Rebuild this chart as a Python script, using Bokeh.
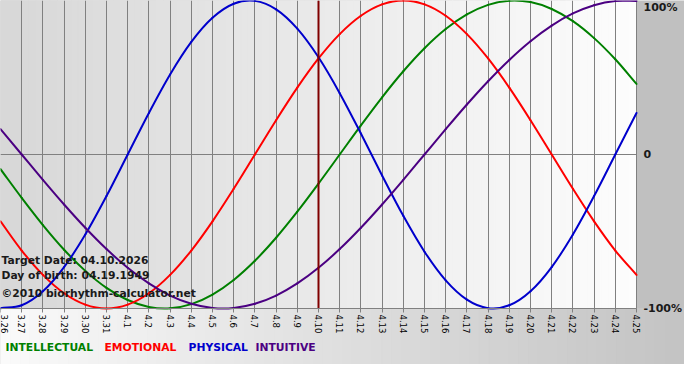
import numpy as np
from bokeh.plotting import figure
from bokeh.models import Range1d, FixedTicker, Label
from bokeh.embed import file_html
from bokeh.resources import INLINE

# ---- data ----
dates = ["3.26", "3.27", "3.28", "3.29", "3.30", "3.31", "4.1", "4.2", "4.3", "4.4",
         "4.5", "4.6", "4.7", "4.8", "4.9", "4.10", "4.11", "4.12", "4.13", "4.14",
         "4.15", "4.16", "4.17", "4.18", "4.19", "4.20", "4.21", "4.22", "4.23", "4.24", "4.25"]

intellectual = [-0.0951, -0.2817, -0.4582, -0.6182, -0.7557, -0.8660, -0.9450, -0.9898, -0.9989, -0.9718,
                -0.9096, -0.8146, -0.6901, -0.5406, -0.3717, -0.1893, 0.0, 0.1893, 0.3717, 0.5406,
                0.6901, 0.8146, 0.9096, 0.9718, 0.9989, 0.9898, 0.9450, 0.8660, 0.7557, 0.6182, 0.4582]
emotional = [-0.4339, -0.6235, -0.7818, -0.9010, -0.9749, -1.0, -0.9749, -0.9010, -0.7818, -0.6235,
             -0.4339, -0.2225, 0.0, 0.2225, 0.4339, 0.6235, 0.7818, 0.9010, 0.9749, 1.0,
             0.9749, 0.9010, 0.7818, 0.6235, 0.4339, 0.2225, 0.0, -0.2225, -0.4339, -0.6235, -0.7818]
physical = [-0.9977, -0.9791, -0.8879, -0.7308, -0.5196, -0.2698, 0.0, 0.2698, 0.5196, 0.7308,
            0.8879, 0.9791, 0.9977, 0.9423, 0.8170, 0.6311, 0.3984, 0.1362, -0.1362, -0.3984,
            -0.6311, -0.8170, -0.9423, -0.9977, -0.9791, -0.8879, -0.7308, -0.5196, -0.2698, 0.0, 0.2698]
intuitive = [0.1646, 0.0, -0.1646, -0.3247, -0.4759, -0.6142, -0.7357, -0.8372, -0.9158, -0.9694,
             -0.9966, -0.9966, -0.9694, -0.9158, -0.8372, -0.7357, -0.6142, -0.4759, -0.3247, -0.1646,
             0.0, 0.1646, 0.3247, 0.4759, 0.6142, 0.7357, 0.8372, 0.9158, 0.9694, 0.9966, 0.9966]

target_date = "4.10"
y_ticks = [-1, 0, 1]
y_tick_labels = ["-100%", "0", "100%"]
info_lines = ["Target Date: 04.10.2026", "Day of birth: 04.19.1949", "\u00a92010 biorhythm-calculator.net"]
legend_names = ["INTELLECTUAL", "EMOTIONAL", "PHYSICAL", "INTUITIVE"]

# ---- styling ----
colors = {"INTELLECTUAL": "#008000", "EMOTIONAL": "#ff0000", "PHYSICAL": "#0000cc", "INTUITIVE": "#4b0082"}
series = {"INTELLECTUAL": intellectual, "EMOTIONAL": emotional, "PHYSICAL": physical, "INTUITIVE": intuitive}

W, H = 684, 364          # figure size
PW, PH = 636, 308        # plot-area size in pixels (rest = right and bottom bands)
x = list(range(len(dates)))
n = len(dates) - 1
ymin_v, ymax_v = min(y_ticks), max(y_ticks)
xmax = n * W / PW
ymin = ymax_v - (ymax_v - ymin_v) * H / PH

p = figure(width=W, height=H, x_range=Range1d(0, xmax), y_range=Range1d(ymin, ymax_v),
           y_axis_location="right", output_backend="svg", toolbar_location=None,
           min_border=0, border_fill_color="#c0c0c0", background_fill_color="#c0c0c0",
           outline_line_color=None)

# plot-area gradient (left grey -> right white)
ns = 90
edges = np.linspace(0, n, ns + 1)
gv = np.linspace(216, 253, ns).astype(int)
gcol = ["#%02x%02x%02x" % (g, g, g) for g in gv]
p.quad(left=edges[:-1], right=edges[1:], bottom=ymin_v, top=ymax_v, fill_color=gcol,
       line_color=gcol, line_width=1, level="image")

# bottom band gradient (left white -> right grey)
nb = 70
bedges = np.linspace(0, xmax, nb + 1)
bv = np.linspace(250, 196, nb).astype(int)
bcol = ["#%02x%02x%02x" % (g, g, g) for g in bv]
p.quad(left=bedges[:-1], right=bedges[1:], bottom=ymin, top=ymin_v, fill_color=bcol,
       line_color=bcol, line_width=1, level="image")

# axes drawn at the plot-area edges
p.xaxis.fixed_location = ymin_v
p.xaxis.bounds = (0, n)
p.xaxis.ticker = FixedTicker(ticks=x)
p.xaxis.major_label_overrides = {i: d for i, d in enumerate(dates)}
p.xaxis.major_label_orientation = -np.pi / 2
p.xaxis.major_label_text_font = "DejaVu Sans"
p.xaxis.major_label_text_font_size = "8.5px"
p.xaxis.major_label_text_color = "#000000"
p.xaxis.major_label_standoff = 2
p.xaxis.axis_line_color = "#808080"
p.xaxis.major_tick_line_color = "#808080"
p.xaxis.major_tick_out = 4
p.xaxis.major_tick_in = 0
p.xaxis.minor_tick_line_color = None

p.yaxis.fixed_location = n
p.yaxis.bounds = (ymin_v, ymax_v)
p.yaxis.ticker = FixedTicker(ticks=y_ticks)
p.yaxis.major_label_overrides = {t: l for t, l in zip(y_ticks, y_tick_labels)}
p.yaxis.major_label_text_font = "DejaVu Sans"
p.yaxis.major_label_text_font_style = "bold"
p.yaxis.major_label_text_font_size = "11px"
p.yaxis.major_label_text_color = "#1a1a1a"
p.yaxis.major_label_standoff = 7
p.yaxis.major_tick_out = 0
p.yaxis.major_tick_in = 0
p.yaxis.axis_line_color = None
p.yaxis.major_tick_line_color = None
p.yaxis.minor_tick_line_color = None

p.xgrid.ticker = FixedTicker(ticks=x)
p.xgrid.grid_line_color = "#808080"
p.xgrid.grid_line_width = 1
p.xgrid.cross_bounds = (ymin_v, ymax_v)
p.ygrid.ticker = FixedTicker(ticks=y_ticks)
p.ygrid.grid_line_color = "#808080"
p.ygrid.grid_line_width = 1
p.ygrid.cross_bounds = (0, n)


# smooth curves through the daily values (Catmull-Rom as cubic Bezier segments)
def bezier_parts(xs, ys):
    xs = np.asarray(xs, float)
    ys = np.asarray(ys, float)
    xe = np.concatenate([[2 * xs[0] - xs[1]], xs, [2 * xs[-1] - xs[-2]]])
    ye = np.concatenate([[2 * ys[0] - ys[1]], ys, [2 * ys[-1] - ys[-2]]])
    x0, y0 = xe[1:-2], ye[1:-2]
    x1, y1 = xe[2:-1], ye[2:-1]
    cx0 = x0 + (xe[2:-1] - xe[:-3]) / 6
    cy0 = y0 + (ye[2:-1] - ye[:-3]) / 6
    cx1 = x1 - (xe[3:] - xe[1:-2]) / 6
    cy1 = y1 - (ye[3:] - ye[1:-2]) / 6
    return dict(x0=x0, y0=y0, x1=x1, y1=y1, cx0=cx0, cy0=cy0, cx1=cx1, cy1=cy1)


for name in legend_names:
    b = bezier_parts(x, series[name])
    p.bezier(x0=b["x0"], y0=b["y0"], x1=b["x1"], y1=b["y1"],
             cx0=b["cx0"], cy0=b["cy0"], cx1=b["cx1"], cy1=b["cy1"],
             line_color=colors[name], line_width=2, line_cap="round")

# target date marker
ti = dates.index(target_date)
p.segment(x0=[ti], y0=[ymin_v], x1=[ti], y1=[ymax_v], line_color="#800000", line_width=2)

for txt, yy in zip(info_lines, [104, 89, 71]):
    p.add_layout(Label(x=1, y=yy, x_units="screen", y_units="screen", text=txt,
                       text_font="DejaVu Sans", text_font_style="bold", text_font_size="10.75px",
                       text_color="#1a1a1a", text_baseline="middle", text_align="left"))

# legend row
for name, xx in zip(legend_names, [5, 104, 188, 255]):
    p.add_layout(Label(x=xx, y=17, x_units="screen", y_units="screen", text=name,
                       text_font="DejaVu Sans", text_font_style="bold", text_font_size="10.75px",
                       text_color=colors[name], text_baseline="middle", text_align="left"))

open("out.html", "w").write(file_html(p, INLINE))
